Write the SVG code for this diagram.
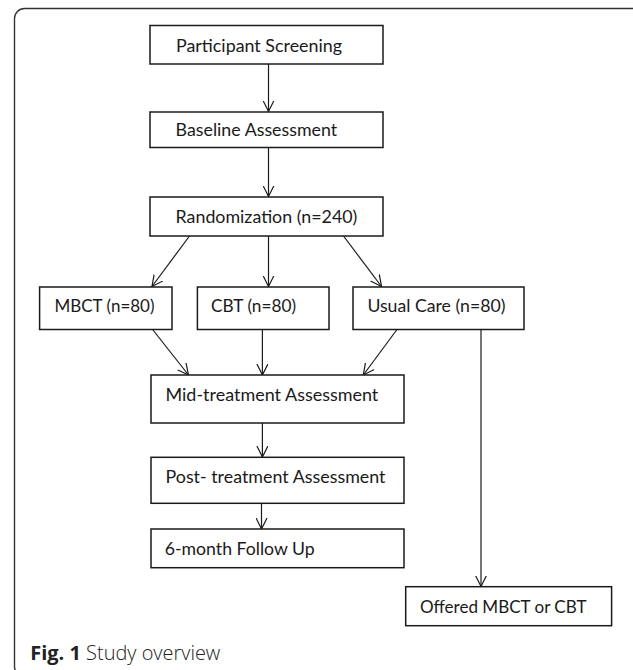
<svg xmlns="http://www.w3.org/2000/svg" width="633" height="670" viewBox="0 0 633 670">
<defs>
<style>
.box{fill:#fff;stroke:#1a1a1a;stroke-width:1.5}
.lbl{font-family:Lato,"Open Sans","Liberation Sans",sans-serif;font-size:17.5px;fill:#1a1a1a}
.con{fill:none;stroke:#1a1a1a;stroke-width:1.2}
.cap{font-family:"Open Sans","Noto Sans","Liberation Sans",sans-serif;font-size:20px;fill:#222}
</style>
<marker id="ah" markerUnits="userSpaceOnUse" viewBox="0 0 12 12" markerWidth="12" markerHeight="12" refX="11" refY="6" orient="auto">
<path d="M0,0.5 L11,6 L0,11.5" fill="none" stroke="#1a1a1a" stroke-width="1.2"/>
</marker>
</defs>
<rect width="633" height="670" fill="#fff"/>
<rect id="frame" x="14.5" y="8.5" width="630" height="668" rx="10" ry="10" fill="none" stroke="#333" stroke-width="1.4"/>

<g id="connectors">
<line class="con" x1="268.5" y1="64" x2="268.5" y2="111.5" marker-end="url(#ah)"/>
<line class="con" x1="268.5" y1="147.5" x2="268.5" y2="196.5" marker-end="url(#ah)"/>
<line class="con" x1="189.5" y1="236" x2="152" y2="286.5" marker-end="url(#ah)"/>
<line class="con" x1="268.5" y1="236" x2="268.5" y2="286.5" marker-end="url(#ah)"/>
<line class="con" x1="343.5" y1="236" x2="381.5" y2="286.5" marker-end="url(#ah)"/>
<line class="con" x1="152.6" y1="329.5" x2="188.5" y2="375" marker-end="url(#ah)"/>
<line class="con" x1="262.4" y1="329.5" x2="262.4" y2="375" marker-end="url(#ah)"/>
<line class="con" x1="397" y1="329.5" x2="363.3" y2="375" marker-end="url(#ah)"/>
<line class="con" x1="262.4" y1="423" x2="262.4" y2="457" marker-end="url(#ah)"/>
<line class="con" x1="261.5" y1="503.5" x2="261.5" y2="529" marker-end="url(#ah)"/>
<line class="con" x1="481" y1="329.5" x2="481" y2="586.5" marker-end="url(#ah)"/>
</g>

<g id="screening">
<rect class="box" x="150" y="25.5" width="233" height="38.5"/>
<text class="lbl" x="176" y="52.3" textLength="166" lengthAdjust="spacingAndGlyphs">Participant Screening</text>
</g>
<g id="baseline">
<rect class="box" x="150" y="112" width="233" height="35.5"/>
<text class="lbl" x="175.6" y="136" textLength="161.5" lengthAdjust="spacingAndGlyphs">Baseline Assessment</text>
</g>
<g id="randomization">
<rect class="box" x="150" y="197" width="233" height="39"/>
<text class="lbl" x="175.6" y="223" textLength="181.7" lengthAdjust="spacingAndGlyphs">Randomization (n=240)</text>
</g>
<g id="mbct">
<rect class="box" x="39.6" y="287" width="132.4" height="42.5"/>
<text class="lbl" x="54.5" y="312" textLength="100" lengthAdjust="spacingAndGlyphs">MBCT (n=80)</text>
</g>
<g id="cbt">
<rect class="box" x="197.4" y="287" width="131.6" height="42.5"/>
<text class="lbl" x="211" y="312" textLength="85" lengthAdjust="spacingAndGlyphs">CBT (n=80)</text>
</g>
<g id="usualcare">
<rect class="box" x="353" y="287" width="171" height="42.5"/>
<text class="lbl" x="367.4" y="312" textLength="138" lengthAdjust="spacingAndGlyphs">Usual Care (n=80)</text>
</g>
<g id="midtreatment">
<rect class="box" x="151" y="375" width="253" height="48"/>
<text class="lbl" x="165.5" y="401" textLength="212.8" lengthAdjust="spacingAndGlyphs">Mid-treatment Assessment</text>
</g>
<g id="posttreatment">
<rect class="box" x="151" y="457.3" width="253" height="46"/>
<text class="lbl" x="165.5" y="483" textLength="220" lengthAdjust="spacingAndGlyphs">Post- treatment Assessment</text>
</g>
<g id="followup">
<rect class="box" x="151" y="529" width="253" height="38.7"/>
<text class="lbl" x="164.7" y="555" textLength="150" lengthAdjust="spacingAndGlyphs">6-month Follow Up</text>
</g>
<g id="offered">
<rect class="box" x="405.7" y="586.7" width="205.9" height="39"/>
<text class="lbl" x="419.9" y="613" textLength="166.7" lengthAdjust="spacingAndGlyphs">Offered MBCT or CBT</text>
</g>

<text id="caption" class="cap" x="30.3" y="660" textLength="190" lengthAdjust="spacingAndGlyphs"><tspan font-weight="bold">Fig. 1</tspan><tspan font-weight="300"> Study overview</tspan></text>
</svg>
